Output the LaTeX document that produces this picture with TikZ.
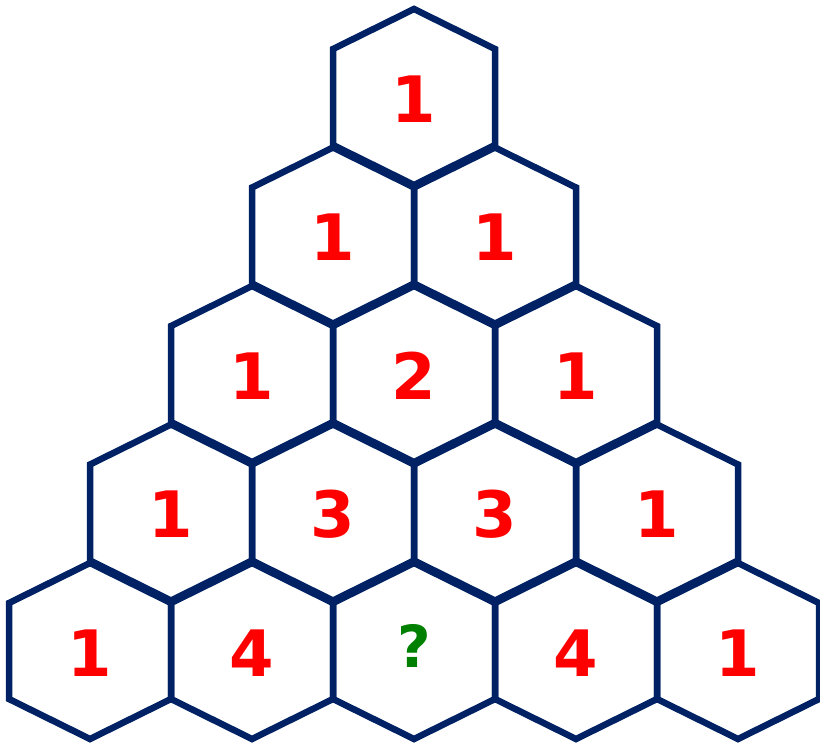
\documentclass[tikz,border=0pt]{standalone}
\usepackage{fontspec}
\setmainfont{DejaVu Sans}
\definecolor{navy}{RGB}{0,33,99}
\definecolor{numred}{RGB}{255,0,0}
\definecolor{qgreen}{RGB}{0,128,0}
\tikzset{
  hexline/.style={draw=navy,line width=6.5pt,line join=miter},
  num/.style={text=numred,font=\fontsize{64}{64}\selectfont\bfseries,inner sep=0pt,anchor=center},
  qnum/.style={num,text=qgreen,font=\fontsize{58}{58}\selectfont\bfseries}
}
\begin{document}
\begin{tikzpicture}[x=1pt,y=1pt]
\useasboundingbox (0,0) rectangle (820,-745);
\foreach \r/\k/\t in {0/0/1, 1/0/1, 1/1/1, 2/0/1, 2/1/2, 2/2/1, 3/0/1, 3/1/3, 3/2/3, 3/3/1, 4/0/1, 4/1/4, 4/3/4, 4/4/1}{
  \pgfmathsetmacro{\cx}{414+(\k-\r/2)*162}
  \pgfmathsetmacro{\cy}{-(97+\r*138.5)}
  \draw[hexline] (\cx,\cy+88) -- (\cx+81,\cy+48) -- (\cx+81,\cy-48) -- (\cx,\cy-88) -- (\cx-81,\cy-48) -- (\cx-81,\cy+48) -- cycle;
  \node[num] (h\r\k) at (\cx,\cy-2) {\t};
}
\pgfmathsetmacro{\cx}{414}
\pgfmathsetmacro{\cy}{-(97+4*138.5)}
\draw[hexline] (\cx,\cy+88) -- (\cx+81,\cy+48) -- (\cx+81,\cy-48) -- (\cx,\cy-88) -- (\cx-81,\cy-48) -- (\cx-81,\cy+48) -- cycle;
\node[qnum] (h42) at (\cx,\cy+5) {?};
\end{tikzpicture}
\end{document}
